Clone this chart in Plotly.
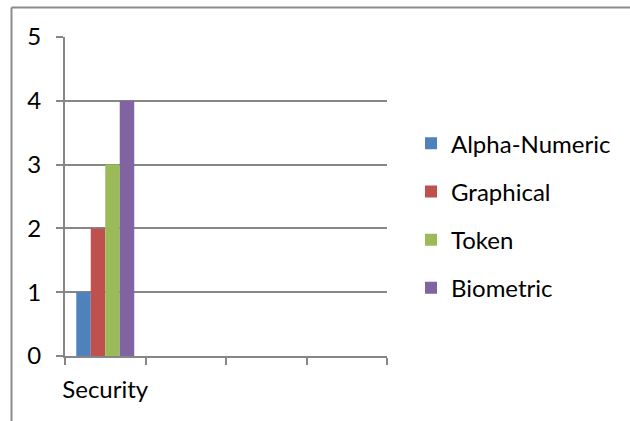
import plotly.graph_objects as go

categories = ["Security", " ", "  ", "   "]
series_names = ["Alpha-Numeric", "Graphical", "Token", "Biometric"]
alpha_numeric = [1, None, None, None]
graphical = [2, None, None, None]
token = [3, None, None, None]
biometric = [4, None, None, None]
colors = ["#4F81BD", "#C0504D", "#9BBB59", "#8064A2"]
y_ticks = [0, 1, 2, 3, 4, 5]

W, H = 630, 421
L, R, T, B = 65, 243, 37, 65
FONT = "Lato"
FS = 24
GRAY = "#868686"

fig = go.Figure()
for i, (name, vals) in enumerate(zip(series_names, [alpha_numeric, graphical, token, biometric])):
    fig.add_trace(go.Bar(x=categories, y=vals, name=name, marker=dict(color=colors[i], line=dict(width=0)),
                         legendgroup=name))

pw = W - L - R
ph = H - T - B
def px_x(p):
    return (p - L) / pw
def px_y(p):
    return (H - B - p) / ph

fig.update_layout(
    width=W, height=H,
    margin=dict(l=L, r=R, t=T, b=B),
    paper_bgcolor="white", plot_bgcolor="white",
    font=dict(family=FONT, size=FS, color="#000000"),
    barmode="group", bargap=0.28, bargroupgap=0,
    showlegend=True,
    legend=dict(x=px_x(411), y=0.44, xanchor="left", yanchor="middle",
                tracegroupgap=14, font=dict(family=FONT, size=FS),
                bgcolor="rgba(0,0,0,0)"),
    xaxis=dict(type="category", categoryorder="array", categoryarray=categories,
               range=[-0.5, 3.5], showgrid=False, zeroline=False,
               showline=True, linecolor=GRAY, linewidth=2,
               ticks="outside", tickson="boundaries", ticklen=7, tickwidth=2, tickcolor=GRAY,
               tickangle=0, ticklabelstandoff=11, tickfont=dict(family=FONT, size=FS)),
    yaxis=dict(range=[0, 5], tickvals=y_ticks, showgrid=True, gridcolor=GRAY, gridwidth=1.5,
               zeroline=False, showline=True, linecolor=GRAY, linewidth=2,
               ticks="outside", ticklen=7, tickwidth=2, tickcolor=GRAY,
               ticklabelstandoff=10, tickfont=dict(family=FONT, size=FS)),
    shapes=[
        dict(type="line", xref="paper", yref="paper", x0=px_x(11.5), x1=px_x(W + 5),
             y0=px_y(7.5), y1=px_y(7.5), line=dict(color="#8c8c8c", width=2)),
        dict(type="line", xref="paper", yref="paper", x0=px_x(11.5), x1=px_x(11.5),
             y0=px_y(7.5), y1=px_y(H + 5), line=dict(color="#8c8c8c", width=2)),
    ],
)

fig.write_html("out.html", config={"displayModeBar": False},
               post_script="document.body.style.margin='0';document.body.style.overflow='hidden';")
